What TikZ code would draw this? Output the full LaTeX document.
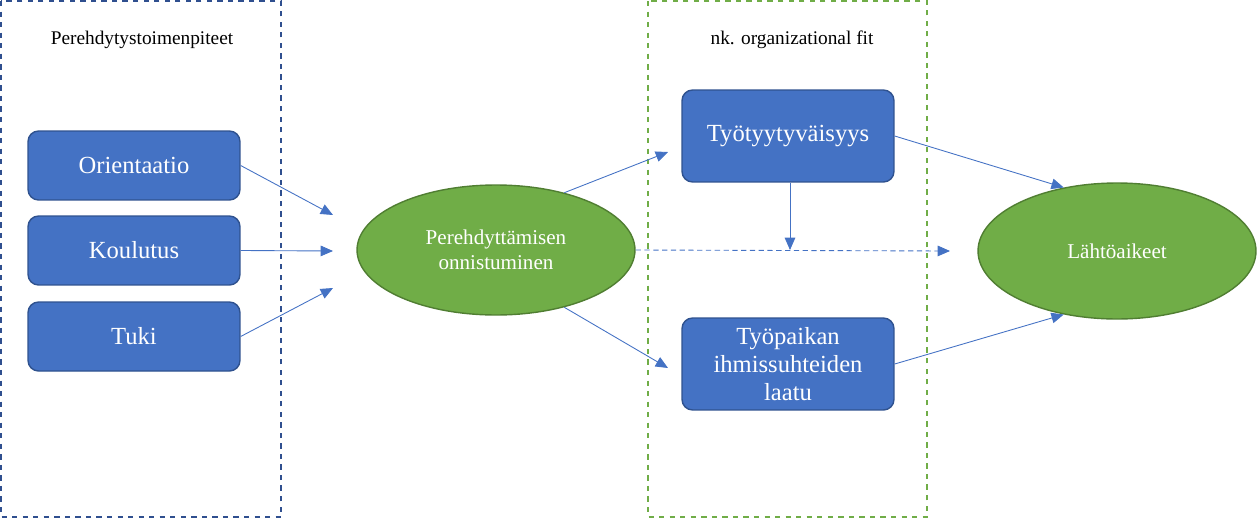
\documentclass[tikz,border=0pt]{standalone}
\usepackage{fontspec}
\setmainfont{Liberation Serif}
\usetikzlibrary{shapes.geometric,arrows.meta}
\definecolor{boxblue}{HTML}{4472C4}
\definecolor{boxedge}{HTML}{2F528F}
\definecolor{ovalgreen}{HTML}{70AD47}
\definecolor{ovaledge}{HTML}{507E32}
\definecolor{frameblue}{HTML}{2F4F8F}
\begin{document}
\begin{tikzpicture}[x=0.02cm,y=-0.02cm]
        \tikzstyle{measure} = [draw=boxedge, fill=boxblue, rounded corners=6pt, text=white, font=\fontsize{14}{16}\selectfont, align=center, line width=0.8pt];
        \tikzstyle{outcome} = [ellipse, draw=ovaledge, fill=ovalgreen, text=white, align=center, line width=0.8pt];
        \tikzstyle{frame} = [dashed, line width=0.9pt];
        \tikzstyle{title} = [font=\fontsize{11}{13}\selectfont];
        \tikzstyle{link} = [boxblue, -{Triangle[length=7pt,width=6pt]}, line width=0.5pt];
        \useasboundingbox (0,0) rectangle (1258,518);

        \draw [frame, frameblue] (1,1) rectangle (281,517);
        \node [title] (t1) at (142,40) {Perehdytystoimenpiteet};
        \draw [frame, ovalgreen] (648,1) rectangle (927,517);
        \node [title] (t2) at (792,40) {nk. organizational fit};

        \node [measure, minimum width=212\pgflinewidth] (orient) at (134,165.5) [minimum width=4.24cm, minimum height=1.38cm] {Orientaatio};
        \node [measure, minimum width=4.24cm, minimum height=1.38cm] (koul) at (134,250.5) {Koulutus};
        \node [measure, minimum width=4.24cm, minimum height=1.38cm] (tuki) at (134,336.5) {Tuki};

        \node [outcome, minimum width=5.56cm, minimum height=2.6cm, font=\fontsize{12}{14}\selectfont] (onn) at (496,250) {Perehdyttämisen\\onnistuminen};
        \node [measure, minimum width=4.24cm, minimum height=1.84cm] (tyyt) at (788,136) {Työtyytyväisyys};
        \node [measure, minimum width=4.24cm, minimum height=1.84cm] (suht) at (788,364) {Työpaikan\\ihmissuhteiden\\laatu};
        \node [outcome, minimum width=5.56cm, minimum height=2.72cm, font=\fontsize{12}{14}\selectfont] (lahto) at (1117,251) {Lähtöaikeet};

        \coordinate (inA) at (333,215);
        \coordinate (inB) at (333,251);
        \coordinate (inC) at (333,288);
        \coordinate (mid) at (790,250);
        \coordinate (lahtoin) at (950,251);
        \draw [link] (orient.east) -- (inA);
        \draw [link] (koul.east) -- (inB);
        \draw [link] (tuki.east) -- (inC);
        \draw [link] (onn.40) -- (668,152);
        \draw [link] (onn.-40) -- (668,368);
        \draw [link] (tyyt.south -| mid) -- (mid);
        \draw [link, dashed, dash pattern=on 3pt off 2pt] (onn.east) -- (lahtoin);
        \draw [link] (tyyt.east) -- (lahto.130);
        \draw [link] (suht.east) -- (lahto.-130);
\end{tikzpicture}
\end{document}
